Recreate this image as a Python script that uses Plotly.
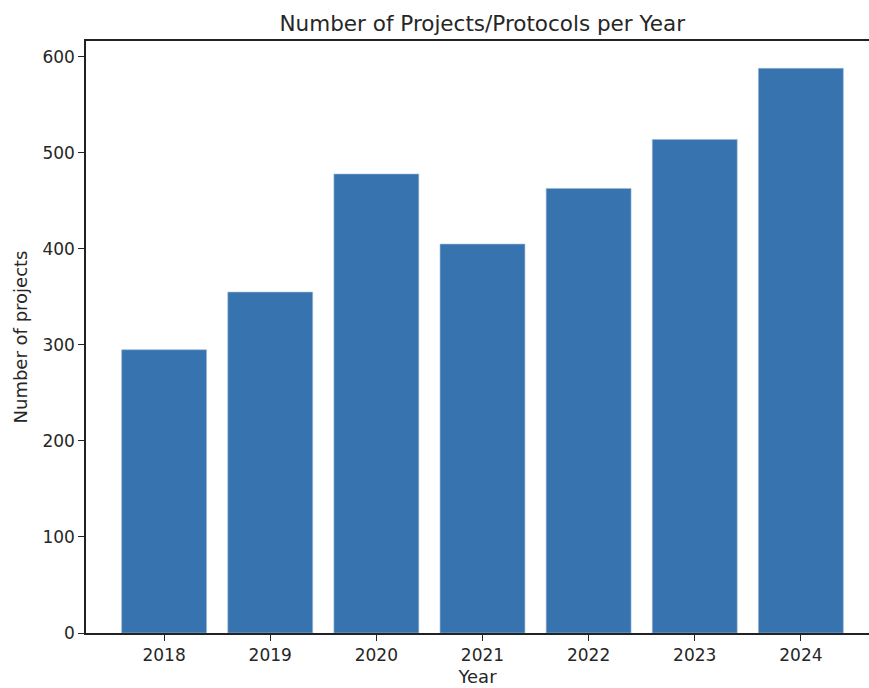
import plotly.graph_objects as go

years = ["2018", "2019", "2020", "2021", "2022", "2023", "2024"]
projects = [295, 355, 478, 405, 463, 514, 588]
y_ticks = [0, 100, 200, 300, 400, 500, 600]

fig = go.Figure()
fig.add_trace(go.Bar(
    x=list(range(len(years))), y=projects, width=0.8,
    marker=dict(color="#3773AF", line=dict(color="#9DB9D7", width=0.6)),
))

font = "DejaVu Sans"
fig.update_layout(
    width=869, height=688,
    margin=dict(l=86, r=0, t=41, b=55),
    paper_bgcolor="white", plot_bgcolor="white",
    showlegend=False,
    font=dict(family=font, size=17, color="#262626"),
    title=dict(text="Number of Projects/Protocols per Year", x=0.555, xanchor="center",
               y=1 - 23 / 688, yanchor="middle", font=dict(size=21.5, color="#262626")),
    xaxis=dict(
        range=[-0.736, 6.642], tickvals=list(range(len(years))), ticktext=years,
        showgrid=False, zeroline=False, showline=True, linecolor="#222222", linewidth=1.5,
        mirror=True, ticks="outside", ticklen=6, tickwidth=1.3, tickcolor="#222222",
        title=dict(text="Year", standoff=6, font=dict(size=18)),
    ),
    yaxis=dict(
        range=[0, 616.5], tickvals=y_ticks,
        showgrid=False, zeroline=False, showline=True, linecolor="#222222", linewidth=1.5,
        ticks="outside", ticklen=6, tickwidth=1.3, tickcolor="#222222",
        title=dict(text="Number of projects", standoff=10, font=dict(size=18)),
    ),
)

fig.write_html(
    "out.html",
    config={"displayModeBar": False},
    post_script="document.body.style.margin='0';document.body.style.overflow='hidden';",
)
